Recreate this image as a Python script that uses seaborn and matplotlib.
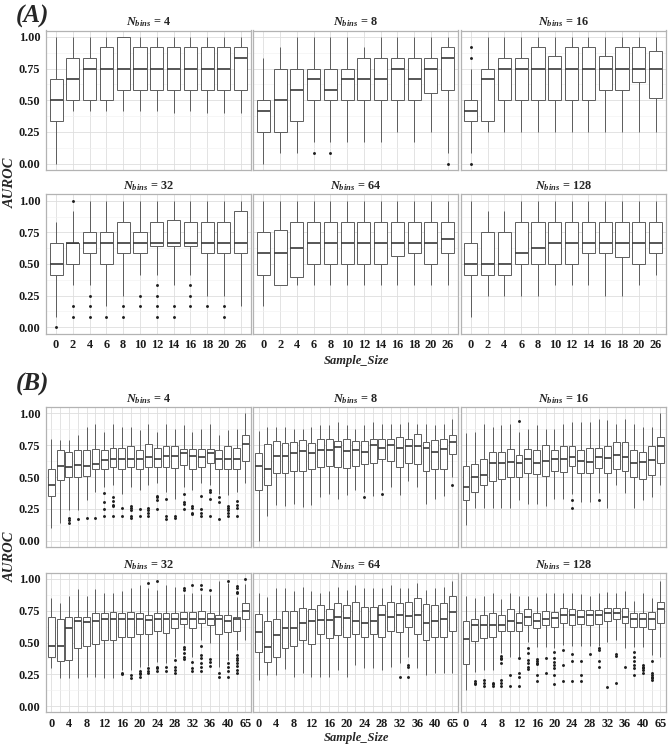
import matplotlib
matplotlib.use("Agg")
import matplotlib.pyplot as plt
from matplotlib.ticker import MultipleLocator, FixedLocator, FormatStrFormatter
import pandas as pd
import seaborn as sns

# ---------------- categories ----------------
sizes_A = [0, 2, 4, 6, 8, 10, 12, 14, 16, 18, 20, 26]
sizes_B = [0, 2, 4, 6, 8, 10, 12, 14, 16, 18, 20, 22, 24, 26, 28, 30, 32, 34, 36, 38, 40, 42, 65]
labels_B = ["0", "", "4", "", "8", "", "12", "", "16", "", "20", "", "24", "", "28", "", "32", "", "36", "", "40", "", "65"]
bins = [4, 8, 16, 32, 64, 128]

# ---------------- panel A : box statistics ----------------
a4_lo  = [0.0, .417, .417, .417, .417, .417, .417, .40, .417, .40, .40, .40]
a4_q1  = [.333, .5, .5, .5, .583, .583, .583, .583, .583, .583, .583, .583]
a4_med = [.5, .667, .75, .75, .75, .75, .75, .75, .75, .75, .75, .833]
a4_q3  = [.667, .833, .833, .917, 1.0, .917, .917, .917, .917, .917, .917, .917]
a4_hi  = [1.0, 1.0, 1.0, 1.0, 1.0, 1.0, 1.0, 1.0, 1.0, 1.0, 1.0, 1.0]
a4_out = []

a8_lo  = [0.0, .083, .083, .167, .167, .167, .167, .167, .25, .167, .25, .083]
a8_q1  = [.25, .25, .333, .5, .5, .5, .5, .5, .5, .5, .56, .583]
a8_med = [.417, .5, .583, .667, .583, .667, .667, .667, .75, .667, .75, .833]
a8_q3  = [.5, .75, .75, .75, .75, .75, .833, .833, .833, .833, .833, .917]
a8_hi  = [.833, .917, 1, 1, 1, 1, .917, 1, 1, 1, 1, 1]
a8_out = [(6, .083), (8, .083), (26, 0.0)]

a16_lo  = [.083, .25, .25, .25, .25, .25, .25, .25, .25, .25, .25, .25]
a16_q1  = [.333, .333, .5, .5, .5, .5, .5, .5, .583, .583, .64, .516]
a16_med = [.417, .667, .75, .75, .75, .75, .75, .75, .75, .75, .75, .75]
a16_q3  = [.5, .75, .833, .833, .917, .85, .917, .917, .85, .917, .917, .89]
a16_hi  = [.75, 1, 1, 1, 1, 1, 1, 1, 1, 1, 1, 1]
a16_out = [(0, .833), (0, .917), (0, 0.0)]

a32_lo  = [.083, .333, .333, .167, .25, .417, .417, .333, .417, .25, .25, .167]
a32_q1  = [.417, .5, .583, .5, .583, .583, .645, .645, .645, .583, .583, .583]
a32_med = [.5, .667, .667, .667, .667, .667, .667, .667, .667, .667, .667, .667]
a32_q3  = [.667, .667, .75, .75, .833, .75, .833, .85, .833, .833, .833, .917]
a32_hi  = [.833, .917, 1, 1, 1, 1, 1, 1, 1, 1, 1, 1]
a32_out = [(0, 0.0), (2, 1.0), (2, .167), (2, .083), (4, .25), (4, .167), (4, .083),
           (6, .083), (8, .167), (8, .083), (10, .25), (10, .167),
           (12, .333), (12, .25), (12, .167), (12, .083), (14, .167), (14, .083),
           (16, .333), (16, .25), (16, .167), (18, .167), (20, .167), (20, .083)]

a64_lo  = [.167, .333, .333, .333, .333, .333, .333, .333, .333, .333, .333, .333]
a64_q1  = [.417, .333, .40, .5, .5, .5, .5, .5, .56, .583, .5, .583]
a64_med = [.583, .583, .625, .667, .667, .667, .667, .667, .667, .667, .667, .70]
a64_q3  = [.75, .77, .833, .833, .833, .833, .833, .833, .833, .833, .833, .833]
a64_hi  = [1, 1, 1, 1, 1, 1, 1, 1, 1, 1, 1, 1]
a64_out = []

a128_lo  = [.083, .25, .25, .25, .25, .333, .333, .333, .25, .25, .333, .417]
a128_q1  = [.417, .417, .417, .5, .5, .5, .5, .583, .583, .558, .5, .583]
a128_med = [.5, .5, .5, .583, .625, .667, .667, .667, .667, .667, .667, .667]
a128_q3  = [.667, .75, .75, .833, .833, .833, .833, .833, .833, .833, .833, .833]
a128_hi  = [1, .917, .917, 1, 1, 1, 1, 1, 1, 1, 1, 1]
a128_out = []

# ---------------- panel B : box statistics ----------------
b4_lo  = [.10, .14, .24, .24, .32, .385, .42, .44, .37, .42, .40, .44, .45, .385, .33, .42, .40, .45, .44, .37, .36, .385, .45]
b4_q1  = [.35, .48, .50, .50, .51, .56, .56, .575, .56, .575, .56, .575, .58, .575, .57, .595, .56, .575, .607, .56, .56, .56, .625]
b4_med = [.44, .59, .575, .595, .59, .605, .63, .64, .64, .64, .64, .655, .64, .665, .665, .685, .665, .655, .685, .64, .64, .645, .76]
b4_q3  = [.56, .71, .70, .71, .71, .72, .71, .73, .725, .745, .71, .76, .73, .745, .74, .72, .72, .72, .72, .71, .74, .725, .83]
b4_hi  = [.80, .79, .79, .83, .895, .92, .85, .92, .895, .895, .87, .92, .85, .92, .875, .91, .85, .875, .92, .83, .87, .875, 1.0]
b4_out = [(4, .18), (4, .16), (4, .14), (6, .17), (8, .175), (10, .175),
          (12, .377), (12, .30), (12, .25), (12, .19),
          (14, .34), (14, .31), (14, .28), (14, .27), (14, .19),
          (16, .26), (16, .19), (18, .27), (18, .26), (18, .24), (18, .195), (18, .18),
          (20, .245), (20, .19), (22, .26), (22, .24), (22, .22), (22, .19),
          (24, .35), (24, .34), (24, .32), (24, .245), (26, .325), (26, .195), (26, .17),
          (28, .195), (28, .18), (30, .366), (30, .306), (30, .288), (30, .246),
          (32, .27), (32, .26), (32, .22), (32, .207), (34, .35), (34, .246), (34, .22), (34, .19),
          (36, .40), (36, .385), (36, .325), (36, .19), (38, .34), (38, .30), (38, .17),
          (40, .27), (40, .26), (40, .24), (40, .22), (40, .19),
          (42, .31), (42, .28), (42, .26), (42, .19)]

b8_lo  = [0.0, .196, .28, .27, .29, .267, .28, .34, .37, .325, .36, .40, .385, .35, .40, .42, .36, .47, .42, .29, .325, .35, .497]
b8_q1  = [.40, .435, .53, .53, .55, .55, .56, .576, .586, .576, .568, .59, .60, .607, .64, .625, .576, .607, .60, .55, .56, .56, .68]
b8_med = [.59, .56, .667, .667, .686, .707, .69, .71, .71, .733, .707, .71, .70, .75, .725, .75, .725, .743, .743, .725, .70, .72, .775]
b8_q3  = [.69, .757, .785, .77, .775, .79, .77, .80, .80, .785, .80, .785, .785, .80, .80, .80, .817, .80, .835, .775, .79, .80, .827]
b8_hi  = [.86, .89, .89, .89, .875, .875, .89, .91, .91, .935, .91, .875, .91, .935, .92, .92, .92, .935, .92, .92, .91, .92, .953]
b8_out = [(24, .34), (28, .366), (65, .437)]

b16_lo  = [.123, .26, .26, .26, .26, .26, .32, .29, .29, .27, .33, .33, .37, .30, .306, .377, .26, .437, .377, .26, .32, .34, .437]
b16_q1  = [.32, .38, .437, .47, .484, .497, .497, .53, .52, .51, .547, .54, .586, .53, .53, .573, .53, .56, .547, .497, .484, .513, .607]
b16_med = [.424, .50, .515, .607, .607, .615, .607, .64, .607, .625, .64, .644, .655, .625, .618, .655, .647, .673, .655, .607, .62, .633, .74]
b16_q3  = [.59, .60, .64, .70, .694, .72, .67, .72, .71, .754, .71, .74, .743, .712, .73, .73, .746, .775, .777, .712, .70, .74, .817]
b16_hi  = [.843, .856, .92, .89, .905, .92, .856, .875, .905, .875, .875, .92, .935, .935, .935, .953, .948, .92, .953, .92, .89, .89, 1.0]
b16_out = [(12, .94), (24, .32), (24, .26), (30, .32)]

b32_lo  = [.297, .218, .218, .218, .231, .231, .218, .218, .283, .283, .31, .315, .349, .336, .388, .493, .388, .52, .499, .31, .362, .441, .52]
b32_q1  = [.383, .354, .362, .459, .472, .488, .52, .52, .54, .546, .567, .567, .593, .572, .611, .643, .611, .651, .638, .567, .585, .593, .682]
b32_med = [.472, .472, .611, .669, .661, .669, .682, .682, .682, .682, .682, .677, .682, .682, .682, .682, .682, .682, .682, .682, .669, .682, .748]
b32_q3  = [.698, .682, .698, .703, .698, .73, .73, .743, .73, .743, .735, .717, .73, .73, .735, .743, .743, .748, .735, .717, .717, .703, .808]
b32_hi  = [.848, .81, .866, .919, .866, .919, .892, .892, .908, .927, .953, .927, .913, .953, .94, .88, .887, .88, .875, .987, .966, .86, .96]
b32_out = [(16, .262), (16, .25), (18, .244), (18, .218),
           (20, .276), (20, .262), (20, .25), (20, .231),
           (22, .971), (22, .297), (22, .276), (22, .262),
           (24, .987), (24, .31), (24, .297), (24, .276), (26, .31), (26, .276),
           (28, .362), (28, .31), (28, .283), (28, .262),
           (30, .927), (30, .913), (30, .467), (30, .446), (30, .415), (30, .388), (30, .367),
           (32, .953), (32, .349), (32, .297), (32, .276),
           (34, .953), (34, .919), (34, .472), (34, .402), (34, .375), (34, .336), (34, .31), (34, .276),
           (36, .913), (36, .367), (36, .349), (36, .315), (38, .262), (38, .231),
           (40, .987), (40, .336), (40, .31), (40, .276), (40, .231),
           (42, .945), (42, .927), (42, .90), (42, .887), (42, .402), (42, .38), (42, .362),
           (42, .341), (42, .315), (42, .283), (42, .262), (65, 1.0)]

b64_lo  = [.205, .244, .244, .289, .231, .257, .231, .231, .231, .283, .231, .323, .297, .297, .283, .31, .336, .388, .297, .244, .257, .257, .257]
b64_q1  = [.428, .349, .383, .454, .472, .52, .486, .564, .533, .559, .546, .564, .546, .564, .546, .593, .585, .625, .564, .52, .546, .546, .593]
b64_med = [.585, .467, .559, .611, .611, .651, .669, .677, .677, .703, .696, .669, .656, .669, .717, .703, .717, .709, .717, .656, .669, .685, .743]
b64_q3  = [.724, .669, .682, .748, .748, .774, .761, .793, .761, .808, .793, .822, .777, .777, .793, .819, .808, .819, .848, .80, .793, .808, .866]
b64_hi  = [.887, .856, .927, .927, .908, .94, .908, .887, .908, .94, .913, .953, .927, .927, .927, .953, .927, .927, .966, .913, .927, .94, .987]
b64_out = [(32, .231), (34, .323), (34, .31), (34, .231)]

b128_lo  = [.126, .27, .283, .283, .415, .388, .388, .507, .467, .462, .459, .48, .472, .472, .472, .472, .507, .52, .454, .467, .462, .402, .383]
b128_q1  = [.328, .514, .533, .546, .593, .593, .593, .638, .611, .638, .625, .651, .638, .643, .638, .643, .669, .682, .651, .625, .625, .604, .656]
b128_med = [.525, .638, .638, .638, .638, .669, .656, .698, .669, .682, .696, .717, .714, .698, .717, .717, .735, .735, .698, .682, .682, .682, .761]
b128_q3  = [.669, .682, .717, .73, .714, .761, .73, .761, .735, .748, .743, .774, .761, .756, .756, .756, .774, .769, .774, .73, .73, .743, .822]
b128_hi  = [.866, .848, .866, .887, .84, .887, .866, .866, .861, .892, .887, .892, .887, .879, .866, .887, .90, .887, .908, .829, .892, .848, .987]
b128_out = [(2, .2), (2, .184), (2, .173), (4, .205), (4, .184), (4, .157),
            (6, .184), (6, .17), (6, .157),
            (8, .394), (8, .38), (8, .367), (8, .341), (8, .205), (8, .184), (8, .157),
            (10, .244), (10, .157), (12, .38), (12, .262), (12, .231), (12, .157),
            (14, .454), (14, .415), (14, .362), (14, .336), (14, .31), (14, .289),
            (16, .367), (16, .354), (16, .341), (16, .328), (16, .244), (16, .2),
            (18, .38), (18, .262),
            (20, .428), (20, .38), (20, .349), (20, .323), (20, .297), (20, .244), (20, .17),
            (22, .441), (22, .323), (22, .2), (24, .41), (24, .354), (24, .2),
            (26, .354), (26, .244), (26, .2), (28, .41),
            (30, .454), (30, .441), (30, .354), (30, .304), (32, .152),
            (34, .41), (34, .394), (34, .184), (36, .304),
            (38, .428), (38, .388), (38, .357), (38, .323), (38, .297), (38, .244),
            (40, .323), (40, .31), (40, .297), (40, .283), (40, .262),
            (42, .357), (42, .262), (42, .244), (42, .231), (42, .218), (42, .205)]

panel_A = [
    (a4_lo, a4_q1, a4_med, a4_q3, a4_hi, a4_out),
    (a8_lo, a8_q1, a8_med, a8_q3, a8_hi, a8_out),
    (a16_lo, a16_q1, a16_med, a16_q3, a16_hi, a16_out),
    (a32_lo, a32_q1, a32_med, a32_q3, a32_hi, a32_out),
    (a64_lo, a64_q1, a64_med, a64_q3, a64_hi, a64_out),
    (a128_lo, a128_q1, a128_med, a128_q3, a128_hi, a128_out),
]
panel_B = [
    (b4_lo, b4_q1, b4_med, b4_q3, b4_hi, b4_out),
    (b8_lo, b8_q1, b8_med, b8_q3, b8_hi, b8_out),
    (b16_lo, b16_q1, b16_med, b16_q3, b16_hi, b16_out),
    (b32_lo, b32_q1, b32_med, b32_q3, b32_hi, b32_out),
    (b64_lo, b64_q1, b64_med, b64_q3, b64_hi, b64_out),
    (b128_lo, b128_q1, b128_med, b128_q3, b128_hi, b128_out),
]

# ---------------- style ----------------
sns.set_theme(style="white")
plt.rcParams["font.family"] = ["Liberation Serif", "DejaVu Serif"]
plt.rcParams["font.weight"] = "bold"
plt.rcParams["mathtext.fontset"] = "custom"
plt.rcParams["mathtext.it"] = "Liberation Serif:italic:bold"
plt.rcParams["mathtext.rm"] = "Liberation Serif:bold"
plt.rcParams["mathtext.bf"] = "Liberation Serif:bold"

W, H = 669, 749
fig = plt.figure(figsize=(W / 100, H / 100), dpi=100)
fig.patch.set_facecolor("white")


def add_ax(l, t, r, b):
    return fig.add_axes([l / W, 1 - b / H, (r - l) / W, (b - t) / H])


cols = [(46, 250.7), (253.3, 457.7), (460.7, 665.7)]
rows_A = [(30.5, 170), (194.4, 333.6)]
rows_B = [(407, 547), (572.6, 712.4)]

LINE = "#5c5c5c"


def draw_facet(ax, sizes, stats, nb, show_x, show_y, xlabels):
    lo, q1, med, q3, hi, out = stats
    order = [str(s) for s in sizes]
    recs = []
    for s, a, b, m, c, d in zip(sizes, lo, q1, med, q3, hi):
        for v in (a, b, m, c, d):
            recs.append((str(s), v))
    df = pd.DataFrame(recs, columns=["Sample_Size", "AUROC"])
    sns.boxplot(data=df, x="Sample_Size", y="AUROC", order=order, ax=ax,
                whis=(0, 100), width=0.78, color="white", saturation=1,
                linecolor=LINE, linewidth=0.7, showcaps=False, showfliers=False,
                medianprops=dict(color="#3a3a3a", linewidth=1.2))
    if out:
        odf = pd.DataFrame([(str(s), v) for s, v in out], columns=["Sample_Size", "AUROC"])
        sns.stripplot(data=odf, x="Sample_Size", y="AUROC", order=order, ax=ax,
                      jitter=False, size=2.1, color="#1e1e1e", linewidth=0)
    n = len(sizes)
    ax.set_xlim(-0.6, n - 0.4)
    ax.set_ylim(-0.05, 1.05)
    ax.set_xlabel("")
    ax.set_ylabel("")
    ax.set_facecolor("white")
    ax.yaxis.set_major_locator(MultipleLocator(0.25))
    ax.yaxis.set_minor_locator(MultipleLocator(0.125))
    ax.yaxis.set_major_formatter(FormatStrFormatter("%.2f"))
    major = [i for i, lab in enumerate(xlabels) if lab != ""]
    minor = [i for i, lab in enumerate(xlabels) if lab == ""]
    ax.xaxis.set_major_locator(FixedLocator(major))
    ax.xaxis.set_minor_locator(FixedLocator(minor))
    ax.set_xticklabels([xlabels[i] for i in major])
    ax.set_axisbelow(True)
    ax.grid(True, which="major", axis="both", color="#DEDEDE", linewidth=0.6)
    ax.grid(True, which="minor", axis="y", color="#F0F0F0", linewidth=0.4)
    ax.grid(True, which="minor", axis="x", color="#DEDEDE", linewidth=0.6)
    for sp in ax.spines.values():
        sp.set_visible(True)
        sp.set_color("#B3B3B3")
        sp.set_linewidth(0.9)
    ax.tick_params(axis="both", which="major", length=2.5, width=0.6, color="#4d4d4d",
                   labelsize=8.8, pad=1.5, labelcolor="#1a1a1a")
    ax.tick_params(axis="both", which="minor", length=0)
    if not show_x:
        ax.tick_params(axis="x", which="major", length=0, labelbottom=False)
    if not show_y:
        ax.tick_params(axis="y", which="major", length=0, labelleft=False)
    ax.set_title(r"$N_{bins}$ = %d" % nb, fontsize=8.8, fontweight="bold", pad=3.5)


for block, rows, sizes, xl in ((panel_A, rows_A, sizes_A, [str(s) for s in sizes_A]),
                               (panel_B, rows_B, sizes_B, labels_B)):
    for k, stats in enumerate(block):
        r, c = divmod(k, 3)
        t, b = rows[r]
        l, rr = cols[c]
        ax = add_ax(l, t, rr, b)
        draw_facet(ax, sizes, stats, bins[k], show_x=(r == 1), show_y=(c == 0), xlabels=xl)

# panel tags and axis titles
fig.text(16 / W, 1 - 16 / H, "(A)", fontsize=18, fontweight="bold", fontstyle="italic", va="center", ha="left")
fig.text(16 / W, 1 - 384 / H, "(B)", fontsize=18, fontweight="bold", fontstyle="italic", va="center", ha="left")
for yc in (183, 557):
    fig.text(10 / W, 1 - yc / H, "AUROC", rotation=90, fontsize=10.5, fontweight="bold",
             fontstyle="italic", va="center", ha="center")
for yc in (361, 738):
    fig.text(356 / W, 1 - yc / H, "Sample_Size", fontsize=9, fontweight="bold",
             fontstyle="italic", va="center", ha="center")

fig.savefig("out.png", dpi=100, facecolor="white")
